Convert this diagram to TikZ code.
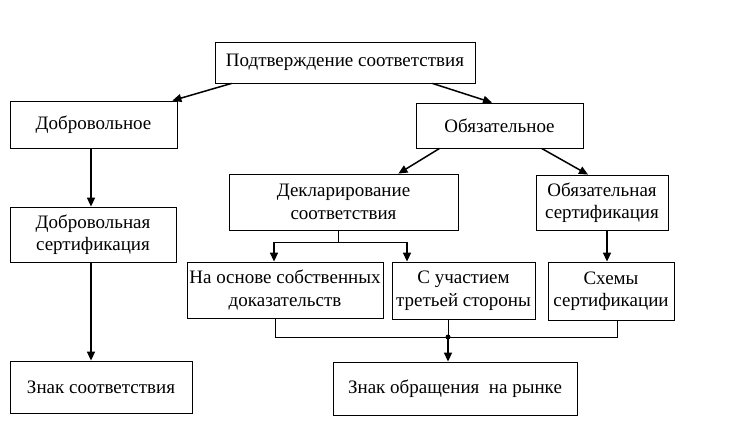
\documentclass[tikz,border=0pt]{standalone}
\usepackage{fontspec}
\setmainfont{Liberation Serif}
\usetikzlibrary{arrows.meta,calc}
\begin{document}
\begin{tikzpicture}[x=1pt,y=-1pt,
  box/.style={draw,line width=0.8pt,inner sep=0pt,align=center,
    font=\fontsize{19}{22.5}\selectfont},
  arr/.style={line width=1.5pt,-{Triangle[length=9pt,width=8pt]}},
  ln/.style={line width=0.8pt}]
\useasboundingbox[fill=white] (0,0) rectangle (744,425);

\node[box,minimum width=260pt,minimum height=41pt] (top) at (345,62.5) {Подтверждение соответствия};
\node[box,minimum width=167pt,minimum height=47pt] (vol) at (93.5,124.5) {Добровольное};
\node[box,minimum width=167pt,minimum height=45pt] (mand) at (499.5,125.5) {Обязательное};
\node[box,minimum width=229pt,minimum height=56pt] (decl) at (343.5,202) {Декларирование\\соответствия};
\node[box,minimum width=132pt,minimum height=55pt] (mcert) at (602,202.5) {Обязательная\\сертификация};
\node[box,minimum width=166pt,minimum height=55pt] (vcert) at (93,234.5) {Добровольная\\сертификация};
\node[box,minimum width=196pt,minimum height=56pt] (own) at (285,290) {На основе собственных\\доказательств};
\node[box,minimum width=143pt,minimum height=57pt] (third) at (463.5,290.5) {С участием\\третьей стороны};
\node[box,minimum width=126pt,minimum height=58pt] (schemes) at (611,291) {Схемы\\сертификации};
\node[box,minimum width=182pt,minimum height=52pt] (mark1) at (101,387) {Знак соответствия};
\node[box,minimum width=244pt,minimum height=53pt] (mark2) at (455,388.5) {Знак обращения~ на рынке};

\draw[arr] ([xshift=17pt]top.south west) -- ([xshift=-5pt]vol.north east);
\draw[arr] ([xshift=-43pt]top.south east) -- ([xshift=-7.5pt]mand.north);
\draw[arr] ([xshift=24pt]mand.south west) -- ([xshift=-60pt]decl.north east);
\draw[arr] ([xshift=126pt]mand.south west) -- ([xshift=-14pt]mcert.north);

\draw[arr] ([xshift=-2.5pt]vol.south) -- ([xshift=-2.5pt]vol.south |- vcert.north);
\draw[arr] ([xshift=-2pt]vcert.south) -- ([xshift=-2pt]vcert.south |- mark1.north);

\coordinate (dj) at ($(decl.south)+(-5.5,12)$);
\coordinate (dl) at (274,242);
\coordinate (dr) at (407,242);
\draw[ln] ([xshift=-5.5pt]decl.south) -- (dj);
\draw[ln] (dl) -- (dr);
\draw[arr] (dl) -- (dl |- own.north);
\draw[arr] (dr) -- (dr |- third.north);

\draw[arr] ([xshift=5pt]mcert.south) -- ([xshift=5pt]mcert.south |- schemes.north);

\coordinate (bj) at (448,337);
\draw[ln] ([xshift=-10pt]own.south) |- ([xshift=6pt]schemes.south |- bj) -- ([xshift=6pt]schemes.south);
\draw[ln] ([xshift=-15.5pt]third.south) -- (bj);
\fill (bj) circle (2.5pt);
\draw[arr] (bj) -- (bj |- mark2.north);
\end{tikzpicture}
\end{document}
